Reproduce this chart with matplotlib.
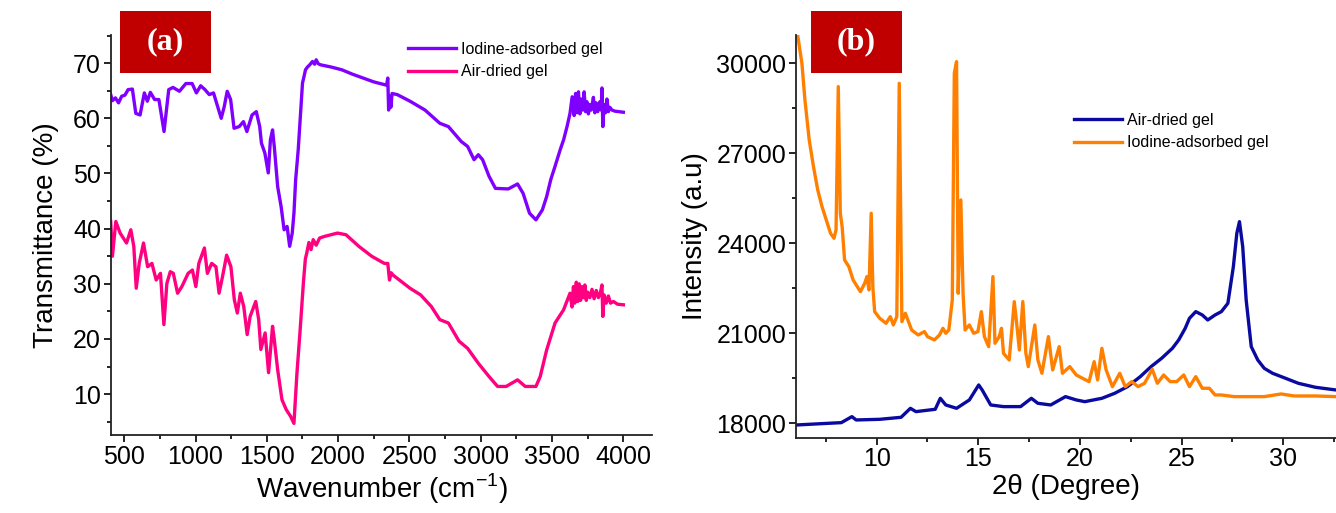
import matplotlib
matplotlib.use("Agg")
import matplotlib.pyplot as plt
from matplotlib.patches import Rectangle
from matplotlib.ticker import MultipleLocator

plt.rcParams['font.family'] = ['Liberation Sans', 'DejaVu Sans']
plt.rcParams['mathtext.fontset'] = 'custom'
plt.rcParams['mathtext.rm'] = 'Liberation Sans'

# ---- (a) FTIR ----
ftir_iodine_x = [405, 417, 438, 460, 482, 505, 527, 557, 581, 611, 641, 662, 683, 713, 743, 779, 812,
                 842, 887, 932, 976, 1006, 1036, 1066, 1096, 1126, 1180, 1201, 1222, 1246, 1270, 1306,
                 1336, 1360, 1396, 1426, 1450, 1462, 1486, 1510, 1525, 1540, 1552, 1576, 1600, 1621,
                 1642, 1660, 1678, 1690, 1702, 1720, 1735, 1750, 1760, 1771, 1785, 1801, 1820, 1835,
                 1846, 1860, 1876, 1950, 2025, 2100, 2175, 2250, 2324, 2340, 2348, 2354, 2362, 2370,
                 2378, 2414, 2504, 2609, 2713, 2773, 2863, 2908, 2953, 2983, 3013, 3058, 3103, 3193,
                 3258, 3297, 3342, 3387, 3432, 3462, 3491, 3521, 3557, 3581, 3605, 3626, 3641, 3655,
                 3665, 3675, 3685, 3695, 3705, 3715, 3725, 3735, 3745, 3755, 3765, 3775, 3790, 3800,
                 3810, 3820, 3835, 3845, 3850, 3856, 3865, 3875, 3885, 3895, 3905, 3920, 3940, 4000]
ftir_iodine_y = [64.3, 63.2, 63.7, 62.8, 64.0, 64.2, 65.2, 65.3, 60.9, 60.6, 64.6, 63.1, 64.7, 63.4,
                 63.4, 57.6, 65.2, 65.6, 64.9, 66.3, 66.3, 64.6, 65.9, 65.2, 64.3, 64.6, 60.0, 62.1,
                 64.9, 63.4, 58.2, 58.5, 59.4, 57.6, 60.6, 61.2, 58.5, 55.5, 53.7, 50.1, 56.1, 57.9,
                 54.9, 47.6, 44.0, 39.8, 40.4, 36.8, 39.2, 42.8, 48.9, 54.3, 60.3, 66.4, 67.5, 68.8,
                 69.3, 69.7, 70.3, 69.8, 70.6, 69.9, 69.7, 69.3, 68.8, 68.0, 67.3, 66.6, 66.1, 66.0,
                 67.3, 61.5, 64.0, 62.0, 64.5, 64.3, 63.1, 61.5, 59.1, 58.5, 55.8, 54.9, 52.5, 53.4,
                 52.5, 49.5, 47.3, 47.2, 48.1, 46.4, 42.8, 41.6, 43.4, 45.8, 48.9, 51.3, 54.3, 56.1,
                 58.5, 60.9, 63.9, 60.5, 64.5, 61.0, 64.8, 60.8, 63.5, 61.5, 64.8, 61.2, 63.0, 60.8,
                 62.5, 61.5, 63.8, 61.0, 62.8, 61.2, 63.0, 61.5, 65.5, 58.5, 62.5, 61.0, 63.5, 61.2,
                 62.0, 61.5, 61.3, 61.1]

ftir_air_x = [405, 417, 441, 471, 516, 546, 567, 584, 605, 635, 664, 694, 724, 754, 778, 799, 823, 844,
              874, 904, 948, 978, 1002, 1023, 1062, 1083, 1113, 1143, 1165, 1189, 1218, 1248, 1272,
              1293, 1314, 1338, 1362, 1383, 1422, 1443, 1458, 1488, 1512, 1540, 1552, 1576, 1606,
              1636, 1666, 1690, 1711, 1732, 1756, 1770, 1780, 1795, 1810, 1825, 1846, 1870, 1905,
              1995, 2055, 2145, 2235, 2324, 2348, 2360, 2372, 2384, 2444, 2504, 2578, 2653, 2713,
              2773, 2848, 2908, 2983, 3058, 3118, 3178, 3258, 3312, 3387, 3417, 3462, 3521, 3581,
              3626, 3640, 3650, 3660, 3670, 3680, 3690, 3700, 3710, 3720, 3730, 3740, 3750, 3765,
              3780, 3795, 3810, 3825, 3840, 3850, 3856, 3865, 3880, 3895, 3910, 3930, 3960, 4000]
ftir_air_y = [41.3, 35.0, 41.3, 39.2, 37.4, 39.8, 36.8, 29.2, 33.7, 37.4, 33.1, 33.7, 30.7, 31.9, 22.6,
              30.1, 32.2, 31.9, 28.3, 29.5, 31.9, 32.5, 29.5, 33.7, 36.5, 31.9, 33.7, 33.1, 28.3,
              31.3, 35.2, 33.1, 27.1, 24.7, 28.3, 25.9, 20.8, 24.1, 26.8, 23.5, 18.1, 21.1, 13.9,
              22.3, 19.9, 14.4, 9.0, 7.2, 6.0, 4.7, 13.8, 21.1, 30.1, 34.5, 35.6, 37.5, 36.2, 38.0,
              37.0, 38.3, 38.6, 39.2, 38.9, 36.8, 35.0, 33.7, 33.7, 30.7, 32.0, 31.6, 30.4, 29.2,
              28.0, 25.9, 23.5, 22.9, 19.6, 18.3, 15.6, 13.2, 11.4, 11.4, 12.6, 11.4, 11.4, 13.2,
              18.0, 22.9, 25.3, 28.3, 25.8, 29.5, 26.5, 30.3, 26.8, 30.0, 27.0, 29.5, 27.5, 29.8,
              27.0, 28.5, 27.5, 29.0, 27.3, 28.8, 27.5, 28.5, 29.8, 24.1, 28.0, 26.5, 27.8, 26.5,
              26.8, 26.3, 26.2]

# ---- (b) XRD ----
xrd_iodine_x = [6.11, 6.32, 6.47, 6.68, 6.89, 7.10, 7.31, 7.52, 7.73, 7.90, 8.00, 8.11, 8.21, 8.30,
                8.42, 8.63, 8.84, 9.20, 9.41, 9.52, 9.62, 9.73, 9.81, 9.90, 10.15, 10.46, 10.67,
                10.82, 10.99, 11.11, 11.24, 11.41, 11.72, 12.04, 12.35, 12.50, 12.84, 13.09, 13.26,
                13.40, 13.55, 13.72, 13.82, 13.93, 14.01, 14.14, 14.25, 14.35, 14.56, 14.77, 14.98,
                15.15, 15.30, 15.51, 15.72, 15.82, 16.03, 16.14, 16.24, 16.52, 16.77, 16.87, 17.02,
                17.19, 17.34, 17.46, 17.78, 17.93, 18.13, 18.45, 18.66, 18.98, 19.14, 19.50, 19.82,
                20.13, 20.45, 20.70, 20.87, 21.08, 21.29, 21.60, 21.96, 22.23, 22.55, 22.86, 23.18,
                23.56, 23.81, 24.12, 24.44, 24.76, 25.11, 25.39, 25.70, 26.02, 26.37, 26.65, 26.96,
                27.59, 28.22, 29.07, 29.90, 30.54, 31.59, 32.60]
xrd_iodine_y = [30944, 30000, 28778, 27444, 26556, 25778, 25222, 24778, 24333, 24167, 24444, 29222,
                25000, 24556, 23444, 23222, 22778, 22389, 22667, 22889, 22444, 25000, 22556, 21722,
                21500, 21333, 21556, 21278, 21556, 29333, 21389, 21667, 21111, 20944, 21056, 20889,
                20778, 20944, 21167, 21000, 21111, 22111, 29667, 30056, 22333, 25444, 22333, 21111,
                21278, 21000, 21056, 21722, 20889, 20556, 22889, 20667, 20889, 21167, 20333, 20111,
                22056, 21444, 20444, 22056, 20333, 19889, 21278, 20111, 19667, 20889, 19778, 20556,
                19667, 19889, 19611, 19500, 19389, 20056, 19444, 20500, 19778, 19222, 19667, 19222,
                19389, 19222, 19333, 19800, 19333, 19611, 19389, 19389, 19611, 19222, 19556, 19167,
                19167, 18944, 18944, 18889, 18889, 18889, 18978, 18911, 18911, 18889]

xrd_air_x = [6.05, 7.00, 8.26, 8.78, 8.99, 10.15, 11.20, 11.66, 11.93, 12.88, 13.13, 13.40, 13.93,
             14.56, 15.02, 15.19, 15.61, 16.24, 17.08, 17.61, 17.93, 18.56, 19.29, 19.82, 20.24,
             21.08, 21.71, 22.34, 22.97, 23.50, 24.02, 24.55, 24.86, 25.18, 25.39, 25.70, 26.02,
             26.29, 26.65, 26.96, 27.28, 27.55, 27.72, 27.85, 28.01, 28.18, 28.43, 28.75, 29.07,
             29.48, 30.12, 30.75, 31.59, 32.60]
xrd_air_y = [17944, 17978, 18022, 18222, 18111, 18133, 18200, 18500, 18389, 18467, 18833, 18611,
             18500, 18778, 19278, 19111, 18611, 18556, 18556, 18833, 18667, 18611, 18889, 18778,
             18722, 18833, 19000, 19222, 19556, 19889, 20167, 20500, 20778, 21167, 21500, 21722,
             21611, 21444, 21611, 21722, 22000, 23222, 24333, 24722, 23889, 22111, 20556, 20111,
             19833, 19667, 19500, 19333, 19200, 19111]

W, H = 1336, 513
fig = plt.figure(figsize=(W / 100, H / 100), dpi=100)

tick_font = 18
label_font = 20
legend_font = 11.5


def style_axis(ax):
    for s in ["top", "right"]:
        ax.spines[s].set_visible(False)
    for s in ["left", "bottom"]:
        ax.spines[s].set_linewidth(1.3)
        ax.spines[s].set_color("#222222")
    ax.tick_params(which="major", direction="out", length=5, width=1.2, labelsize=tick_font, pad=2)
    ax.tick_params(which="minor", direction="out", length=3, width=1.2)


def panel_box(x0, y0, x1, y1, text):
    fig.patches.append(Rectangle((x0 / W, 1 - y1 / H), (x1 - x0) / W, (y1 - y0) / H,
                                 transform=fig.transFigure, facecolor="#C00000",
                                 edgecolor="none", zorder=5))
    fig.text((x0 + x1) / 2 / W, 1 - (y0 + y1) / 2 / H, text, color="white", fontsize=23,
             fontweight="bold", family=["Liberation Serif", "DejaVu Serif"],
             ha="center", va="center", zorder=6)


# panel (a)
ax1 = fig.add_axes([110.7 / W, 1 - 435 / H, 541.6 / W, 400 / H])
style_axis(ax1)
l1, = ax1.plot(ftir_iodine_x, ftir_iodine_y, color="#8000FF", lw=2.4)
l2, = ax1.plot(ftir_air_x, ftir_air_y, color="#FF0080", lw=2.4)
ax1.set_xlim(405, 4203)
ax1.set_ylim(2.6, 75.1)
ax1.xaxis.set_major_locator(MultipleLocator(500))
ax1.xaxis.set_minor_locator(MultipleLocator(250))
ax1.yaxis.set_major_locator(MultipleLocator(10))
ax1.yaxis.set_minor_locator(MultipleLocator(5))
ax1.set_xticks(range(500, 4001, 500))
ax1.set_yticks(range(10, 71, 10))
ax1.set_xlabel("Wavenumber (cm$^{-1}$)", fontsize=label_font, labelpad=2)
ax1.set_ylabel("Transmittance (%)", fontsize=label_font, labelpad=10)
ax1.legend([l1, l2], ["Iodine-adsorbed gel", "Air-dried gel"], loc="upper left",
           bbox_to_anchor=(408 / W, 1 - 42 / H), bbox_transform=fig.transFigure,
           frameon=False, fontsize=legend_font, handlelength=3.0, handletextpad=0.3,
           labelspacing=0.45, borderpad=0, borderaxespad=0)

# panel (b)
ax2 = fig.add_axes([796 / W, 1 - 437.7 / H, 540 / W, 402.7 / H])
style_axis(ax2)
l3, = ax2.plot(xrd_air_x, xrd_air_y, color="#0A0AA0", lw=2.4)
l4, = ax2.plot(xrd_iodine_x, xrd_iodine_y, color="#FF8000", lw=2.4)
ax2.set_xlim(6.03, 32.6)
ax2.set_ylim(17520, 30943)
ax2.xaxis.set_major_locator(MultipleLocator(5))
ax2.xaxis.set_minor_locator(MultipleLocator(2.5))
ax2.yaxis.set_major_locator(MultipleLocator(3000))
ax2.yaxis.set_minor_locator(MultipleLocator(1500))
ax2.set_xlabel("2\u03b8 (Degree)", fontsize=label_font, labelpad=2)
ax2.set_ylabel("Intensity (a.u)", fontsize=label_font, labelpad=6)
ax2.legend([l3, l4], ["Air-dried gel", "Iodine-adsorbed gel"], loc="upper left",
           bbox_to_anchor=(1074 / W, 1 - 113 / H), bbox_transform=fig.transFigure,
           frameon=False, fontsize=legend_font, handlelength=3.0, handletextpad=0.3,
           labelspacing=0.45, borderpad=0, borderaxespad=0)

panel_box(120, 11, 211, 73, "(a)")
panel_box(811, 11, 902, 73, "(b)")

fig.savefig("out.png", dpi=100)
